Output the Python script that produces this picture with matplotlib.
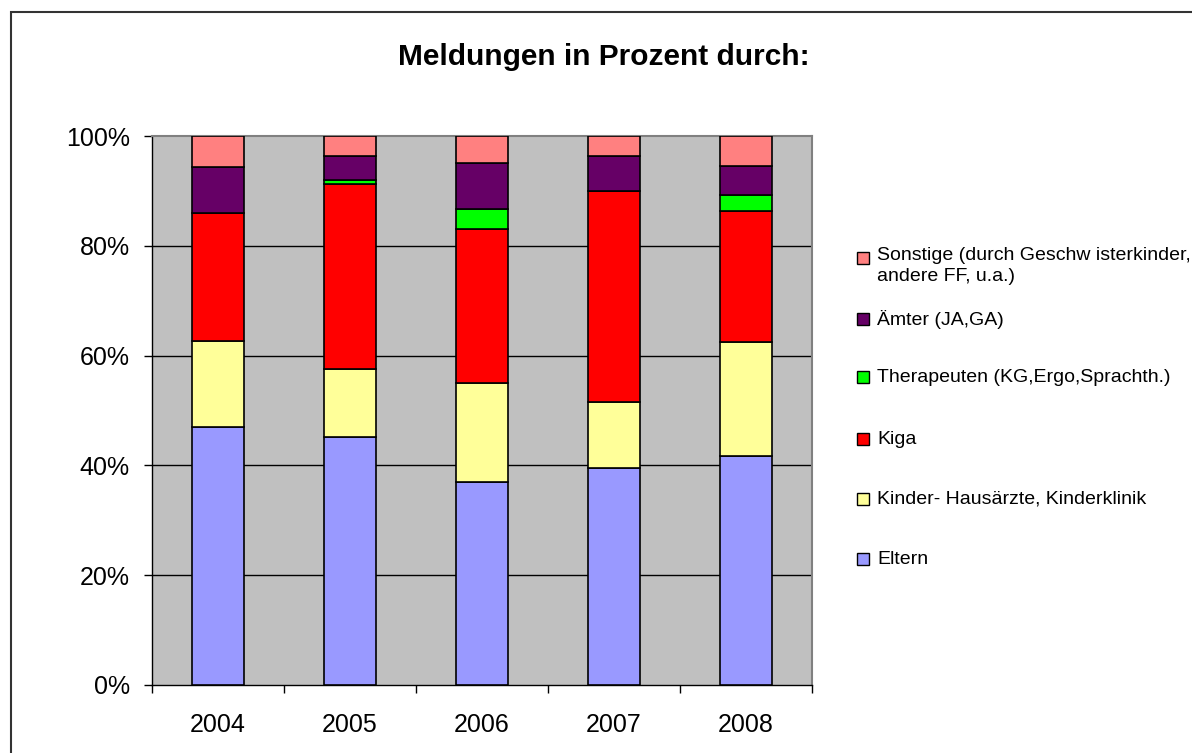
import matplotlib.pyplot as plt
import numpy as np
from matplotlib.patches import Rectangle

plt.rcParams['font.family'] = ['Liberation Sans', 'DejaVu Sans']

# data (percent of reports per year)
years = ["2004", "2005", "2006", "2007", "2008"]
eltern = [47.0, 45.1, 36.9, 39.5, 41.8]
kinderaerzte = [15.7, 12.4, 18.2, 12.0, 20.7]
kiga = [23.3, 33.8, 28.0, 38.5, 23.9]
therapeuten = [0.0, 0.7, 3.6, 0.0, 2.9]
aemter = [8.35, 4.4, 8.3, 6.4, 5.3]
sonstige = [5.65, 3.6, 5.0, 3.6, 5.4]

series_labels = [
    "Eltern",
    "Kinder- Hausärzte, Kinderklinik",
    "Kiga",
    "Therapeuten (KG,Ergo,Sprachth.)",
    "Ämter (JA,GA)",
    "Sonstige (durch Geschw isterkinder,\nandere FF, u.a.)",
]
series_colors = ["#9999FF", "#FFFF99", "#FF0000", "#00FF00", "#660066", "#FF8080"]
yticks = [0, 20, 40, 60, 80, 100]
yticklabels = ["0%", "20%", "40%", "60%", "80%", "100%"]

W, H = 1192, 753
fig = plt.figure(figsize=(W / 100, H / 100), dpi=100)

# plot area in pixel coords
left, right, top, bottom = 152, 812, 136, 685
ax = fig.add_axes([left / W, 1 - bottom / H, (right - left) / W, (bottom - top) / H])
ax.set_facecolor("#C0C0C0")

data = np.array([eltern, kinderaerzte, kiga, therapeuten, aemter, sonstige])
data = data / data.sum(axis=0) * 100
x = np.arange(len(years))
base = np.zeros(len(years))
for vals, lab, col in zip(data, series_labels, series_colors):
    ax.bar(x, vals, 0.4, bottom=base, color=col, edgecolor="black",
           linewidth=1.2, label=lab, zorder=3)
    base += vals

ax.set_xlim(-0.5, len(years) - 0.5)
ax.set_ylim(0, 100)
ax.set_yticks(yticks)
ax.set_yticklabels(yticklabels)
for y in yticks[1:-1]:
    ax.axhline(y, color="black", linewidth=1, zorder=1)

# category labels centred, ticks between categories
ax.set_xticks(x)
ax.set_xticklabels(years)
ax.set_xticks(np.arange(len(years) + 1) - 0.5, minor=True)
ax.tick_params(axis="x", which="major", length=0, pad=20, labelsize=18)
ax.tick_params(axis="x", which="minor", length=6, width=1, color="black")
ax.tick_params(axis="y", length=6, width=1, pad=10, labelsize=18)

for s in ["top", "right"]:
    ax.spines[s].set_color("#808080")
    ax.spines[s].set_linewidth(1.5)
for s in ["left", "bottom"]:
    ax.spines[s].set_color("black")
    ax.spines[s].set_linewidth(1)

fig.text(604 / W, 1 - 57 / H, "Meldungen in Prozent durch:", ha="center", va="center",
         fontsize=21.5, fontweight="bold")

# legend, drawn entry by entry (reverse order as in the original)
leg_y = [258, 319, 377, 439, 499, 559]
for lab, col, ly in zip(series_labels[::-1], series_colors[::-1], leg_y):
    fig.patches.append(Rectangle((857 / W, 1 - (ly + 6) / H), 12 / W, 12 / H,
                                 transform=fig.transFigure, facecolor=col,
                                 edgecolor="black", linewidth=1))
    va = "top" if "\n" in lab else "center"
    yy = ly - 11 if "\n" in lab else ly
    fig.text(877 / W, 1 - yy / H, lab, ha="left", va=va, fontsize=14,
             linespacing=1.3)

# chart frame
fig.patches.append(Rectangle((11 / W, -0.1), 1.2, 1 - 12 / H + 0.1,
                             transform=fig.transFigure, fill=False,
                             edgecolor="#333333", linewidth=1.5))

fig.savefig("out.png", dpi=100)
